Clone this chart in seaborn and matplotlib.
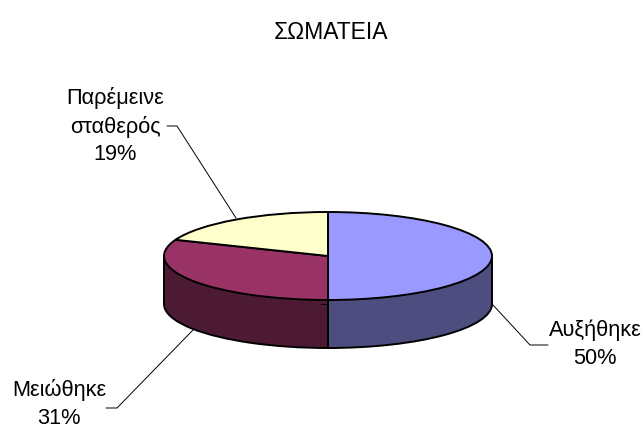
import matplotlib
matplotlib.use("Agg")
import matplotlib.pyplot as plt
import seaborn as sns

title = "ΣΩΜΑΤΕΙΑ"
categories = ["Αυξήθηκε", "Μειώθηκε", "Παρέμεινε\nσταθερός"]
values = [50, 31, 19]

top_colors = sns.color_palette(["#9999FF", "#993366", "#FFFFCC"])
side_colors = sns.color_palette(["#4D4D80", "#4D1A33", "#808066"])

# pie geometry in pixels
W, H = 643, 428
CX, CY = 328, 256
RX, RY = 164, 44
DEPTH = 48


def to_data(x, y):
    return (x - CX) / RX, (CY - y) / RY


sns.set_theme(style="white")
plt.rcParams["font.family"] = ["Liberation Sans", "DejaVu Sans"]

fig = plt.figure(figsize=(W / 100, H / 100), dpi=100)
ax = fig.add_axes([0, 0, 1, 1])

depth = DEPTH / RY
edge = {"edgecolor": "black", "linewidth": 1.4}

# bottom of the cylinder, then the wall, then the lid
ax.pie(values, colors=side_colors, startangle=90, counterclock=False,
       center=(0, -depth), wedgeprops=edge)
ax.fill_between([0, 1], -depth, 0, color=side_colors[0], lw=0, zorder=3)
ax.fill_between([-1, 0], -depth, 0, color=side_colors[1], lw=0, zorder=3)
ax.vlines([-1, 0, 1], -depth, 0, color="black", lw=1.4, zorder=4)
wedges, _ = ax.pie(values, colors=top_colors, startangle=90, counterclock=False,
                   wedgeprops=edge)
for w in wedges:
    w.set_zorder(5)

ax.set_aspect("auto")
ax.set_xlim(to_data(0, 0)[0], to_data(W, 0)[0])
ax.set_ylim(to_data(0, H)[1], to_data(0, 0)[1])
ax.axis("off")

# leader lines
leaders = [
    [(493, 305), (530, 345), (548, 345)],
    [(193, 330), (117, 408), (106, 408)],
    [(236, 218), (177, 126), (167, 126)],
]
for pts in leaders:
    xs, ys = zip(*[to_data(*p) for p in pts])
    ax.plot(xs, ys, color="black", lw=0.7, zorder=2)

# Μειώθηκε sits a little high so that 31% stays inside the picture
label_pos = [(595, 344), (59, 404), (115, 126)]
for name, val, pos in zip(categories, values, label_pos):
    x, y = to_data(*pos)
    ax.text(x, y, f"{name}\n{val}%", ha="center", va="center", fontsize=15.7,
            color="black", linespacing=1.42, clip_on=False)

x, y = to_data(331, 33)
ax.text(x, y, title, ha="center", va="center", fontsize=16.5, color="black")

fig.savefig("out.png", dpi=100)
